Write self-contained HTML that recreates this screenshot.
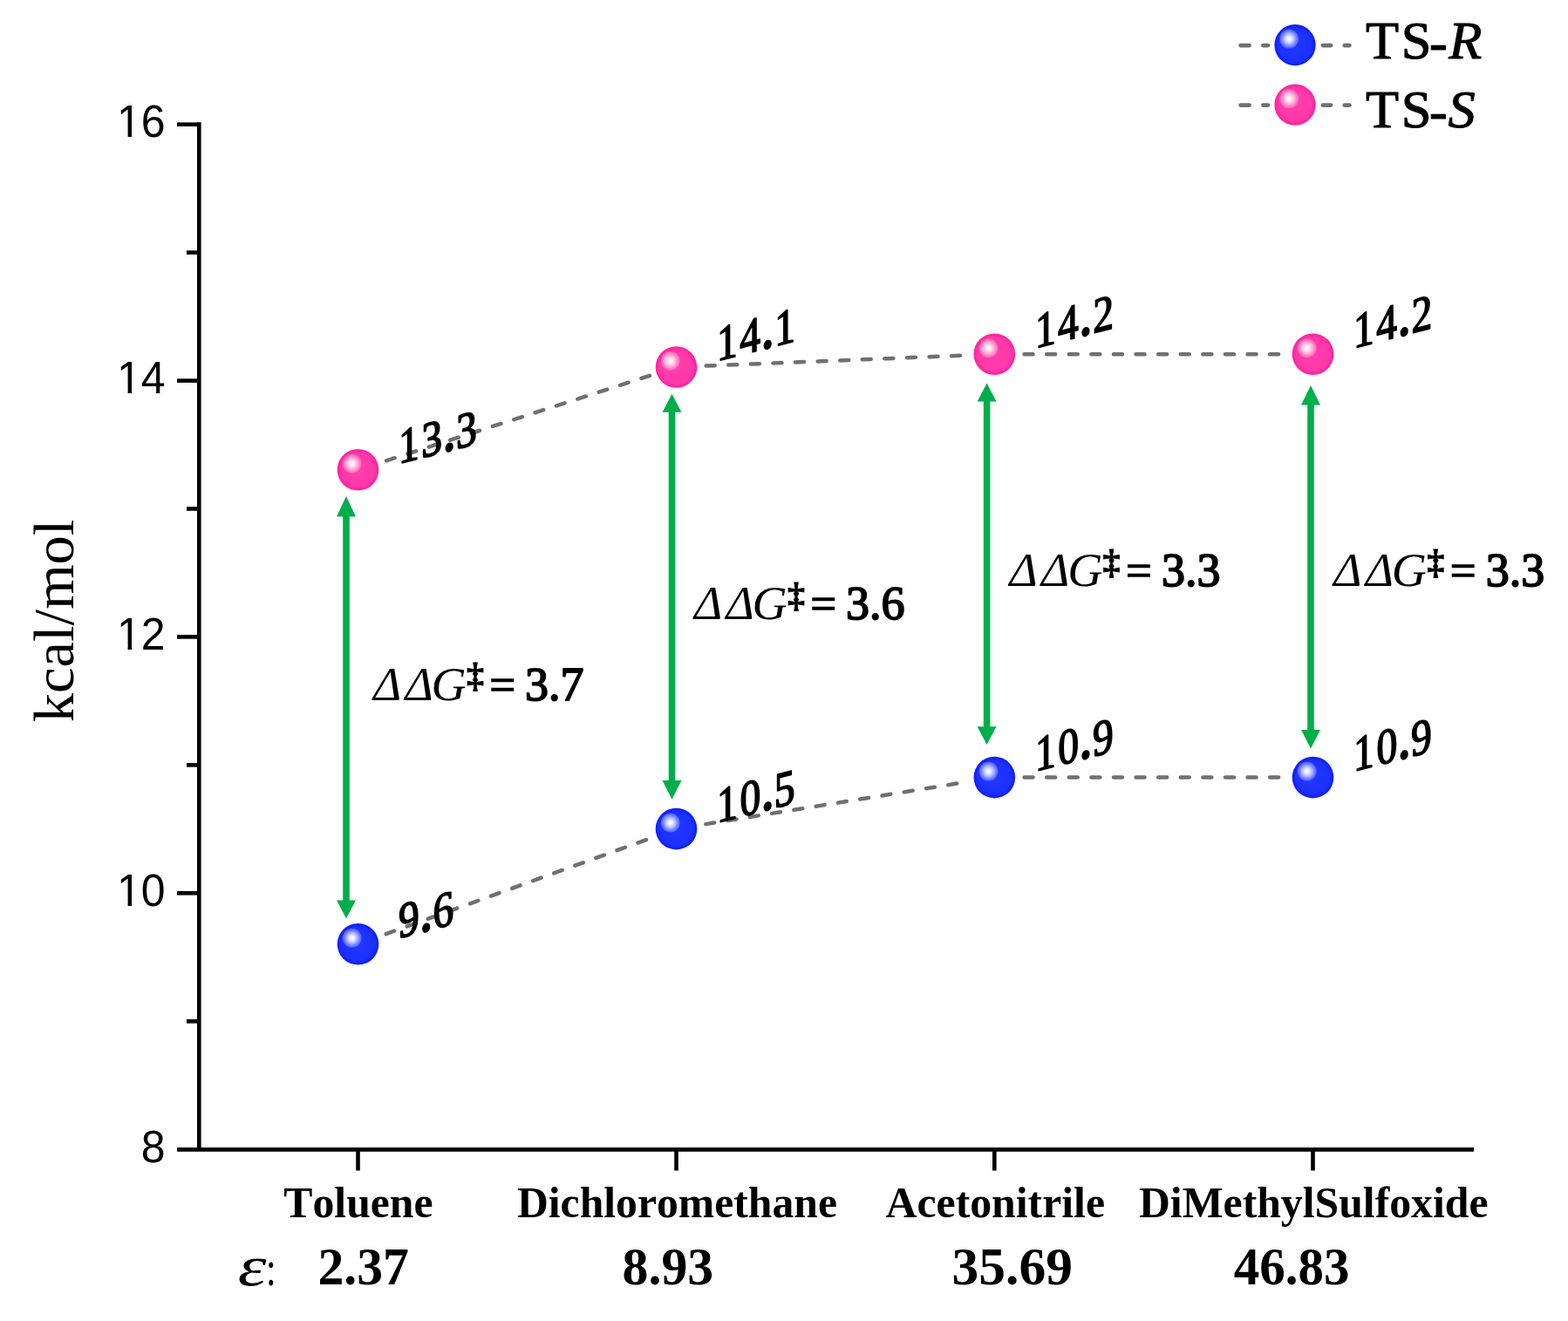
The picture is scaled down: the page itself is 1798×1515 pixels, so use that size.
<!DOCTYPE html>
<html><head><meta charset="utf-8"><title>Solvent effect on TS-R / TS-S free energies</title>
<style>
html,body{margin:0;padding:0;background:#fff;}
svg{display:block;}
text{font-kerning:none;font-feature-settings:"kern" 0;}
.sans{font-family:"Liberation Sans",Arial,sans-serif;}
.serif{font-family:"Liberation Serif","Times New Roman",serif;}
.b{font-weight:bold;}
.i{font-style:italic;}
</style></head><body>
<svg width="1798" height="1515" viewBox="0 0 1798 1515">
<defs>
<radialGradient id="gb" cx="0.5" cy="0.5" r="0.5"><stop offset="0" stop-color="#2238ff"/><stop offset="0.8" stop-color="#1c30ff"/><stop offset="1" stop-color="#0a1cff"/></radialGradient>
<radialGradient id="gp" cx="0.5" cy="0.5" r="0.5"><stop offset="0" stop-color="#ff3fac"/><stop offset="0.8" stop-color="#ff38a8"/><stop offset="1" stop-color="#ff1ea0"/></radialGradient>
<radialGradient id="hb" cx="0.5" cy="0.5" r="0.5"><stop offset="0" stop-color="#ffffff" stop-opacity="1"/><stop offset="0.25" stop-color="#f4f4ff" stop-opacity="0.95"/><stop offset="0.6" stop-color="#b8c0ff" stop-opacity="0.85"/><stop offset="1" stop-color="#6f80ff" stop-opacity="0.55"/></radialGradient>
<radialGradient id="hp" cx="0.5" cy="0.5" r="0.5"><stop offset="0" stop-color="#ffffff" stop-opacity="1"/><stop offset="0.25" stop-color="#fff0f8" stop-opacity="0.95"/><stop offset="0.6" stop-color="#ffc0e0" stop-opacity="0.85"/><stop offset="1" stop-color="#ff80c4" stop-opacity="0.55"/></radialGradient>
</defs>
<rect width="1798" height="1515" fill="#fff"/>

<g stroke="#000" stroke-width="4.6" fill="none">
<path d="M228.3 140.3 V1318.4" />
<path d="M203 1318.4 H1690" />
<path d="M203 142.7 H228"/>
<path d="M203 436.6 H228"/>
<path d="M203 730.4 H228"/>
<path d="M203 1024.3 H228"/>
<path d="M214 289.6 H228"/>
<path d="M214 583.5 H228"/>
<path d="M214 877.4 H228"/>
<path d="M214 1171.3 H228"/>
<path d="M410.5 1318 V1342.5"/>
<path d="M775.5 1318 V1342.5"/>
<path d="M1140.3 1318 V1342.5"/>
<path d="M1505.5 1318 V1342.5"/>
</g>
<g transform="translate(0 157.28) scale(1 1.04) translate(0 -157.28)">
<clipPath id="c1_16"><rect x="132.0" y="115.3" width="59.6" height="37.46"/><rect x="146.57" y="152.25" width="4.42" height="8.54"/><rect x="160.50" y="152.25" width="31.10" height="8.54"/></clipPath>
<text class="sans" x="134.00" y="157.3" font-size="50.0" clip-path="url(#c1_16)">16</text>
</g>
<g transform="translate(0 451.16) scale(1 1.04) translate(0 -451.16)">
<clipPath id="c1_14"><rect x="132.0" y="409.2" width="59.6" height="37.46"/><rect x="146.57" y="446.12" width="4.42" height="8.54"/><rect x="160.50" y="446.12" width="31.10" height="8.54"/></clipPath>
<text class="sans" x="134.00" y="451.2" font-size="50.0" clip-path="url(#c1_14)">14</text>
</g>
<g transform="translate(0 745.04) scale(1 1.04) translate(0 -745.04)">
<clipPath id="c1_12"><rect x="132.0" y="703.0" width="59.6" height="37.47"/><rect x="146.57" y="740.00" width="4.42" height="8.53"/><rect x="160.50" y="740.00" width="31.10" height="8.53"/></clipPath>
<text class="sans" x="134.00" y="745.0" font-size="50.0" clip-path="url(#c1_12)">12</text>
</g>
<g transform="translate(0 1038.92) scale(1 1.04) translate(0 -1038.92)">
<clipPath id="c1_10"><rect x="132.0" y="996.9" width="59.6" height="37.47"/><rect x="146.57" y="1033.88" width="4.42" height="8.53"/><rect x="160.50" y="1033.88" width="31.10" height="8.53"/></clipPath>
<text class="sans" x="134.00" y="1038.9" font-size="50.0" clip-path="url(#c1_10)">10</text>
</g>
<g transform="translate(0 1332.80) scale(1 1.04) translate(0 -1332.80)">
<text class="sans" x="161.80" y="1332.8" font-size="50.0">8</text>
</g>
<text class="serif" transform="translate(84.3 712) rotate(-90)" font-size="66.5" text-anchor="middle">kcal/mol</text>
<path d="M440.95 528.97 L745.05 430.83" fill="none" stroke="#707070" stroke-width="4.5" stroke-linecap="round" stroke-dasharray="10.0 15.6" stroke-dashoffset="-2.25"/><path d="M807.47 419.70 L1108.33 407.50" fill="none" stroke="#707070" stroke-width="4.5" stroke-linecap="round" stroke-dasharray="10.0 15.6" stroke-dashoffset="-2.25"/><path d="M1172.30 406.20 L1473.50 406.20" fill="none" stroke="#707070" stroke-width="4.5" stroke-linecap="round" stroke-dasharray="10.0 15.6" stroke-dashoffset="-2.25"/>
<path d="M440.59 1071.90 L745.41 961.50" fill="none" stroke="#707070" stroke-width="4.5" stroke-linecap="round" stroke-dasharray="10.0 15.6" stroke-dashoffset="-2.25"/><path d="M807.09 945.49 L1108.71 896.71" fill="none" stroke="#707070" stroke-width="4.5" stroke-linecap="round" stroke-dasharray="10.0 15.6" stroke-dashoffset="-2.25"/><path d="M1172.30 891.60 L1473.50 891.60" fill="none" stroke="#707070" stroke-width="4.5" stroke-linecap="round" stroke-dasharray="10.0 15.6" stroke-dashoffset="-2.25"/>
<g fill="#02ae4a"><rect x="393.2" y="591.5" width="7.6" height="442.1"/><path d="M397.0 569 L408.0 592.5 L386.0 592.5 Z"/><path d="M397.0 1053.6 L408.0 1032.6 L386.0 1032.6 Z"/></g>
<g fill="#02ae4a"><rect x="766.7" y="471.8" width="7.6" height="424.2"/><path d="M770.5 451.7 L781.5 472.8 L759.5 472.8 Z"/><path d="M770.5 916.8 L781.5 895 L759.5 895 Z"/></g>
<g fill="#02ae4a"><rect x="1127.8" y="459.6" width="7.6" height="374.7"/><path d="M1131.6 439.5 L1142.6 460.6 L1120.6 460.6 Z"/><path d="M1131.6 853.9 L1142.6 833.3 L1120.6 833.3 Z"/></g>
<g fill="#02ae4a"><rect x="1499.2" y="463.5" width="7.6" height="374.5"/><path d="M1503.0 442 L1514.0 464.5 L1492.0 464.5 Z"/><path d="M1503.0 858.4 L1514.0 837 L1492.0 837 Z"/></g>
<circle cx="410.5" cy="538.8" r="23.8" fill="url(#gp)"/><circle cx="403.7" cy="531.8" r="11" fill="url(#hp)"/>
<circle cx="775.5" cy="421.0" r="23.8" fill="url(#gp)"/><circle cx="768.7" cy="414.0" r="11" fill="url(#hp)"/>
<circle cx="1140.3" cy="406.2" r="23.8" fill="url(#gp)"/><circle cx="1133.5" cy="399.2" r="11" fill="url(#hp)"/>
<circle cx="1505.5" cy="406.2" r="23.8" fill="url(#gp)"/><circle cx="1498.7" cy="399.2" r="11" fill="url(#hp)"/>
<circle cx="410.5" cy="1082.8" r="23.8" fill="url(#gb)"/><circle cx="403.7" cy="1075.8" r="11" fill="url(#hb)"/>
<circle cx="775.5" cy="950.6" r="23.8" fill="url(#gb)"/><circle cx="768.7" cy="943.6" r="11" fill="url(#hb)"/>
<circle cx="1140.3" cy="891.6" r="23.8" fill="url(#gb)"/><circle cx="1133.5" cy="884.6" r="11" fill="url(#hb)"/>
<circle cx="1505.5" cy="891.6" r="23.8" fill="url(#gb)"/><circle cx="1498.7" cy="884.6" r="11" fill="url(#hb)"/>
<text class="serif" transform="matrix(0.8294 -0.2145 0 1 455.70 532.40)" font-size="57.4" y="0" stroke="#000" stroke-width="1.80" stroke-linejoin="round"><tspan class="serif" x="1.70">1</tspan><tspan class="serif" x="33.34">3</tspan><tspan class="serif b" x="64.58">.</tspan><tspan class="serif" x="81.17">3</tspan></text>
<text class="serif" transform="matrix(0.8294 -0.2145 0 1 820.70 414.60)" font-size="57.4" y="0" stroke="#000" stroke-width="1.80" stroke-linejoin="round"><tspan class="serif" x="1.70">1</tspan><tspan class="serif" x="33.22">4</tspan><tspan class="serif b" x="64.58">.</tspan><tspan class="serif" x="81.42">1</tspan></text>
<text class="serif" transform="matrix(0.8294 -0.2145 0 1 1185.50 399.80)" font-size="57.4" y="0" stroke="#000" stroke-width="1.80" stroke-linejoin="round"><tspan class="serif" x="1.70">1</tspan><tspan class="serif" x="33.22">4</tspan><tspan class="serif b" x="64.58">.</tspan><tspan class="serif" x="81.61">2</tspan></text>
<text class="serif" transform="matrix(0.8294 -0.2145 0 1 1550.70 399.80)" font-size="57.4" y="0" stroke="#000" stroke-width="1.80" stroke-linejoin="round"><tspan class="serif" x="1.70">1</tspan><tspan class="serif" x="33.22">4</tspan><tspan class="serif b" x="64.58">.</tspan><tspan class="serif" x="81.61">2</tspan></text>
<text class="serif" transform="matrix(0.8294 -0.2145 0 1 455.70 1076.40)" font-size="57.4" y="0" stroke="#000" stroke-width="1.80" stroke-linejoin="round"><tspan class="serif" x="1.57">9</tspan><tspan class="serif b" x="32.69">.</tspan><tspan class="serif" x="49.21">6</tspan></text>
<text class="serif" transform="matrix(0.8294 -0.2145 0 1 820.70 944.20)" font-size="57.4" y="0" stroke="#000" stroke-width="1.80" stroke-linejoin="round"><tspan class="serif" x="1.70">1</tspan><tspan class="serif" x="33.48">0</tspan><tspan class="serif b" x="64.58">.</tspan><tspan class="serif" x="80.88">5</tspan></text>
<text class="serif" transform="matrix(0.8294 -0.2145 0 1 1185.50 885.20)" font-size="57.4" y="0" stroke="#000" stroke-width="1.80" stroke-linejoin="round"><tspan class="serif" x="1.70">1</tspan><tspan class="serif" x="33.48">0</tspan><tspan class="serif b" x="64.58">.</tspan><tspan class="serif" x="81.29">9</tspan></text>
<text class="serif" transform="matrix(0.8294 -0.2145 0 1 1550.70 885.20)" font-size="57.4" y="0" stroke="#000" stroke-width="1.80" stroke-linejoin="round"><tspan class="serif" x="1.70">1</tspan><tspan class="serif" x="33.48">0</tspan><tspan class="serif b" x="64.58">.</tspan><tspan class="serif" x="81.29">9</tspan></text>
<text class="serif" y="802.5" font-size="53"><tspan class="i" x="427.89" font-size="55">Δ</tspan><tspan class="i" x="464.39" font-size="55">Δ</tspan><tspan class="i" x="494.57" font-size="55.5">G</tspan><tspan class="b" x="534.90" font-size="40" dy="-14.1" stroke="#000" stroke-width="0.8">‡</tspan><tspan x="556.20" dy="14.1"> </tspan><tspan x="561.33" font-size="53" stroke="#000" stroke-width="1.3">=</tspan><tspan x="595.20"> </tspan><tspan x="602.09" font-size="54" stroke="#000" stroke-width="1.8" stroke-linejoin="round">3.7</tspan></text>
<text class="serif" y="710" font-size="53"><tspan class="i" x="795.89" font-size="55">Δ</tspan><tspan class="i" x="832.39" font-size="55">Δ</tspan><tspan class="i" x="862.57" font-size="55.5">G</tspan><tspan class="b" x="902.90" font-size="40" dy="-14.1" stroke="#000" stroke-width="0.8">‡</tspan><tspan x="924.20" dy="14.1"> </tspan><tspan x="929.33" font-size="53" stroke="#000" stroke-width="1.3">=</tspan><tspan x="963.20"> </tspan><tspan x="970.11" font-size="54" stroke="#000" stroke-width="1.8" stroke-linejoin="round">3.6</tspan></text>
<text class="serif" y="672.3" font-size="53"><tspan class="i" x="1157.49" font-size="55">Δ</tspan><tspan class="i" x="1193.99" font-size="55">Δ</tspan><tspan class="i" x="1224.17" font-size="55.5">G</tspan><tspan class="b" x="1264.50" font-size="40" dy="-14.1" stroke="#000" stroke-width="0.8">‡</tspan><tspan x="1285.80" dy="14.1"> </tspan><tspan x="1290.93" font-size="53" stroke="#000" stroke-width="1.3">=</tspan><tspan x="1324.80"> </tspan><tspan x="1331.96" font-size="54" stroke="#000" stroke-width="1.8" stroke-linejoin="round">3.3</tspan></text>
<text class="serif" y="672.1" font-size="53"><tspan class="i" x="1529.19" font-size="55">Δ</tspan><tspan class="i" x="1565.69" font-size="55">Δ</tspan><tspan class="i" x="1595.87" font-size="55.5">G</tspan><tspan class="b" x="1636.20" font-size="40" dy="-14.1" stroke="#000" stroke-width="0.8">‡</tspan><tspan x="1657.50" dy="14.1"> </tspan><tspan x="1662.63" font-size="53" stroke="#000" stroke-width="1.3">=</tspan><tspan x="1696.50"> </tspan><tspan x="1703.66" font-size="54" stroke="#000" stroke-width="1.8" stroke-linejoin="round">3.3</tspan></text>
<text class="serif b" transform="translate(325.32 1396.20) scale(0.9943 1)" font-size="50.00">Toluene</text>
<text class="serif b" transform="translate(592.93 1396.20) scale(0.9940 1)" font-size="50.00">Dichloromethane</text>
<text class="serif b" transform="translate(1015.51 1396.20) scale(0.9957 1)" font-size="50.00">Acetonitrile</text>
<text class="serif b" transform="translate(1305.93 1396.20) scale(0.9945 1)" font-size="50.00">DiMethylSulfoxide</text>
<text class="serif i" transform="translate(272.82 1473.80) scale(1.2478 1)" font-size="66.43">ε</text>
<text class="serif" transform="translate(304.77 1473.80) scale(0.7472 1)" font-size="58.00">:</text>
<text class="serif b" transform="translate(364.39 1473.20) scale(0.9877 1)" font-size="60.50">2.37</text>
<text class="serif b" transform="translate(713.51 1473.20) scale(0.9892 1)" font-size="60.50">8.93</text>
<text class="serif b" transform="translate(1091.49 1473.20) scale(1.0170 1)" font-size="60.50">35.69</text>
<text class="serif b" transform="translate(1414.69 1473.20) scale(0.9758 1)" font-size="60.50">46.83</text>
<path d="M1422.6 52.1 H1432.6" stroke="#707070" stroke-width="4.8" stroke-linecap="round"/>
<path d="M1448.4 52.1 H1453.9" stroke="#707070" stroke-width="4.8" stroke-linecap="round"/>
<path d="M1516.9 52.1 H1526.0" stroke="#707070" stroke-width="4.8" stroke-linecap="round"/>
<path d="M1541.8 52.1 H1547.4" stroke="#707070" stroke-width="4.8" stroke-linecap="round"/>
<circle cx="1485.0" cy="51.6" r="23.6" fill="url(#gb)"/><circle cx="1478.2" cy="44.6" r="11" fill="url(#hb)"/>
<text class="serif" y="66.7" font-size="62.3" stroke="#000" stroke-width="1.1" stroke-linejoin="round"><tspan x="1565.98">T</tspan><tspan x="1606.87">S</tspan><tspan x="1639.00" dy="2">-</tspan><tspan class="i" x="1661.21" dy="-2">R</tspan></text>
<path d="M1422.6 120.6 H1432.6" stroke="#707070" stroke-width="4.8" stroke-linecap="round"/>
<path d="M1448.4 120.6 H1453.9" stroke="#707070" stroke-width="4.8" stroke-linecap="round"/>
<path d="M1516.9 120.6 H1526.0" stroke="#707070" stroke-width="4.8" stroke-linecap="round"/>
<path d="M1541.8 120.6 H1547.4" stroke="#707070" stroke-width="4.8" stroke-linecap="round"/>
<circle cx="1485.0" cy="120.1" r="23.6" fill="url(#gp)"/><circle cx="1478.2" cy="113.1" r="11" fill="url(#hp)"/>
<text class="serif" y="146.4" font-size="62.3" stroke="#000" stroke-width="1.1" stroke-linejoin="round"><tspan x="1565.98">T</tspan><tspan x="1606.87">S</tspan><tspan x="1639.00" dy="2">-</tspan><tspan class="i" x="1660.61" dy="-2">S</tspan></text>
</svg>
</body></html>
